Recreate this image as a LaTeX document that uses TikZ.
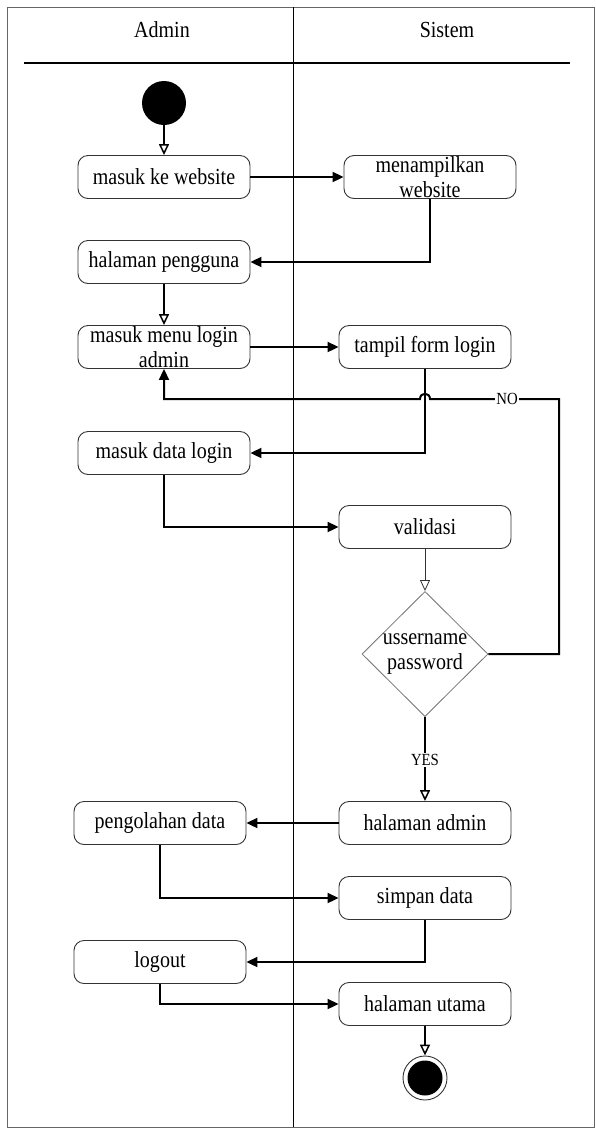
\documentclass[tikz,border=0pt]{standalone}
\usepackage{fontspec}
\setmainfont[FakeStretch=0.87]{Liberation Serif}
\usetikzlibrary{arrows.meta,shapes.geometric}
\begin{document}
\begin{tikzpicture}[x=1pt,y=-1pt,
  act/.style={draw=black!80,line width=0.9pt,rounded corners=10pt,minimum width=172pt,minimum height=43pt,align=center,inner sep=0pt,font=\fontsize{23}{25}\selectfont},
  flow/.style={line width=2pt,-{Triangle[length=11pt,width=10pt]}},
  oflow/.style={line width=2pt,-{Triangle[open,length=11pt,width=10pt,line width=1.5pt]}},
  lbl/.style={fill=white,inner sep=1pt,font=\fontsize{17}{19}\selectfont}]
\useasboundingbox (0,0) rectangle (596,1128);
% frame and lanes
\draw[black!60,line width=0.8pt] (7,1127) -- (7,7) -- (594,7) -- (594,1127) -- cycle;
\draw[line width=0.8pt] (293,7) -- (293,1127);
\draw[line width=2pt] (24,63) -- (570,63);
\node[font=\fontsize{23}{25}\selectfont] (hA) at (162,30) {Admin};
\node[font=\fontsize{23}{25}\selectfont] (hS) at (447,30) {Sistem};
% nodes
\node[circle,fill=black,minimum size=44pt,inner sep=0pt] (start) at (164,103) {};
\node[act] (a1) at (164,177) {masuk ke website};
\node[act] (s1) at (430,177) {menampilkan\\website};
\node[act] (a2) at (164,262) {halaman pengguna};
\node[act] (a3) at (164,347) {masuk menu login\\admin};
\node[act] (s2) at (425,347) {tampil form login};
\node[act] (a4) at (164,453) {masuk data login};
\node[act] (s3) at (425,527) {validasi};
\node[diamond,draw=black!55,line width=0.8pt,minimum width=126pt,minimum height=125pt,inner sep=0pt,align=center,font=\fontsize{23}{25}\selectfont] (d) at (425,654) {ussername\\password};
\node[act] (s4) at (425,823) {halaman admin};
\node[act] (a5) at (160,823) {pengolahan data};
\node[act] (s5) at (425,898) {simpan data};
\node[act] (a6) at (160,962) {logout};
\node[act] (s6) at (425,1004) {halaman utama};
\node[circle,draw=black!80,line width=0.9pt,minimum size=44pt,inner sep=0pt] (endo) at (425,1078) {};
\node[circle,fill=black,minimum size=35pt,inner sep=0pt] (endi) at (425,1078) {};
% connectors
\draw[oflow] (start) -- (a1);
\draw[flow] (a1) -- (s1);
\draw[flow] (s1.south) |- (a2.east);
\draw[oflow] (a2) -- (a3);
\draw[flow] (a3) -- (s2);
\draw[flow] (s2.south) |- (a4.east);
\coordinate (nocorner) at (559,399);
\coordinate (hopR) at (430,399);
\coordinate (hopL) at (420,399);
\coordinate (noturn) at (164,399);
\draw[flow] (d.east) -| (nocorner) -- (hopR) .. controls (430,392) and (420,392) .. (hopL) -- (noturn) -- (a3.south);
\node[lbl] (no) at (507,399) {NO};
\draw[flow] (a4.south) |- (s3.west);
\draw[line width=0.8pt,black!80,-{Triangle[open,length=11pt,width=10pt,line width=0.8pt]}] (s3) -- (d);
\draw[oflow] (d.south) -- (s4.north);
\node[lbl] (yes) at (425,760) {YES};
\draw[flow] (s4) -- (a5);
\draw[flow] (a5.south) |- (s5.west);
\draw[flow] (s5.south) |- (a6.east);
\draw[flow] (a6.south) |- (s6.west);
\draw[oflow] (s6.south) -- (endo.north);
\end{tikzpicture}
\end{document}
